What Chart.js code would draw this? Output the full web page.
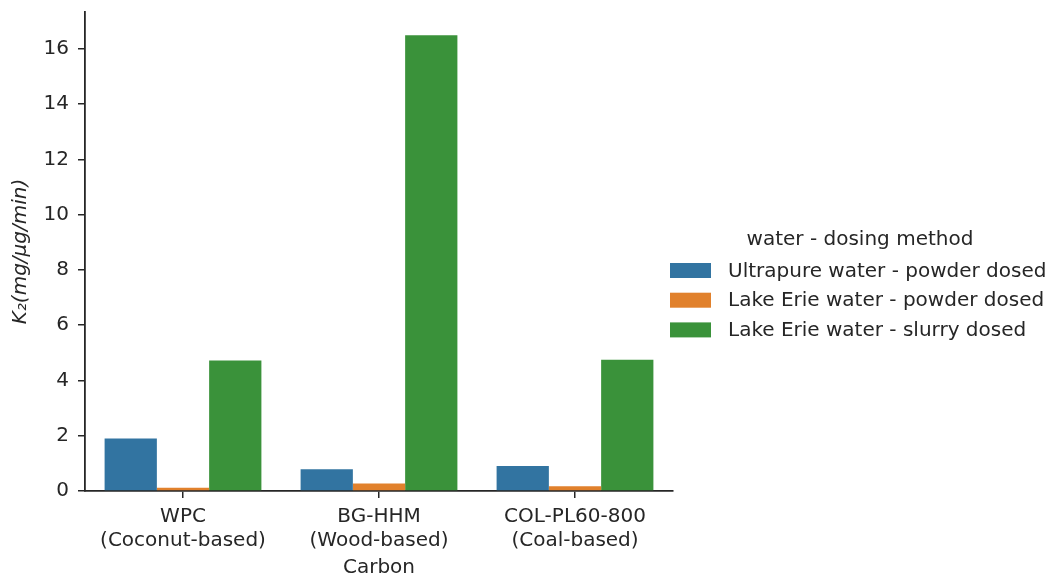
<!DOCTYPE html>
<html>
<head>
<meta charset="utf-8">
<script src="https://cdn.jsdelivr.net/npm/chart.js@4.4.1/dist/chart.umd.min.js"></script>
<style>
  html, body { margin: 0; padding: 0; background: #ffffff; }
  #wrap { width: 1051px; height: 573px; }
</style>
</head>
<body>
<div id="wrap"><canvas id="c" width="1051" height="573"></canvas></div>
<script>
const categories = [
  ['WPC', '(Coconut-based)'],
  ['BG-HHM', '(Wood-based)'],
  ['COL-PL60-800', '(Coal-based)']
];
const seriesNames = [
  'Ultrapure water - powder dosed',
  'Lake Erie water - powder dosed',
  'Lake Erie water - slurry dosed'
];
const ultrapurePowder = [1.90, 0.79, 0.90];
const eriePowder = [0.12, 0.27, 0.17];
const erieSlurry = [4.72, 16.49, 4.75];
const yTicks = [0, 2, 4, 6, 8, 10, 12, 14, 16];
const legendTitle = 'water - dosing method';
const xTitle = 'Carbon';
const yTitle = 'K\u2082(mg/\u03bcg/min)';

const colors = ['#3274a1', '#e1812c', '#3a923a'];
const textColor = '#262626';
const FONT = '"DejaVu Sans", sans-serif';
const FS = 20;

const legendPlugin = {
  id: 'sideLegend',
  afterDraw(chart) {
    const ctx = chart.ctx;
    ctx.save();
    ctx.font = FS + 'px ' + FONT;
    ctx.fillStyle = textColor;
    ctx.textBaseline = 'middle';
    ctx.textAlign = 'center';
    ctx.fillText(legendTitle, 860, 240);
    ctx.textAlign = 'left';
    const ys = [270.5, 300.2, 329.9];
    chart.data.datasets.forEach((ds, i) => {
      ctx.fillStyle = ds.backgroundColor;
      ctx.fillRect(670, ys[i] - 7.5, 41, 15);
      ctx.fillStyle = textColor;
      ctx.fillText(ds.label, 728, ys[i] + 1);
    });
    ctx.restore();
  }
};

new Chart(document.getElementById('c'), {
  type: 'bar',
  data: {
    labels: categories,
    datasets: [
      { label: seriesNames[0], data: ultrapurePowder, backgroundColor: colors[0] },
      { label: seriesNames[1], data: eriePowder, backgroundColor: colors[1] },
      { label: seriesNames[2], data: erieSlurry, backgroundColor: colors[2] }
    ]
  },
  options: {
    responsive: false,
    animation: false,
    devicePixelRatio: 1,
    layout: { padding: { top: 12, right: 378, bottom: 0, left: 0 } },
    datasets: { bar: { categoryPercentage: 0.8, barPercentage: 1.0, borderWidth: 0 } },
    plugins: {
      legend: { display: false },
      tooltip: { enabled: false }
    },
    scales: {
      x: {
        afterFit(s) { s.height = 82; s.paddingLeft = 0; s.paddingRight = 0; },
        grid: { display: true, drawOnChartArea: false, drawTicks: true, tickLength: 7, color: textColor, lineWidth: 1.5, offset: false },
        border: { display: true, color: textColor, width: 1.8 },
        ticks: { color: textColor, font: { family: FONT, size: FS }, padding: 7, maxRotation: 0 },
        title: { display: true, text: xTitle, color: textColor, font: { family: FONT, size: FS }, padding: { top: 0, bottom: -7 } }
      },
      y: {
        min: 0,
        max: 17.33,
        afterFit(s) { s.width = 85; s.paddingTop = 0; s.paddingBottom = 0; },
        afterBuildTicks(s) { s.ticks = yTicks.map(v => ({ value: v })); },
        grid: { display: true, drawOnChartArea: false, drawTicks: true, tickLength: 7, color: textColor, lineWidth: 1.5 },
        border: { display: true, color: textColor, width: 1.8 },
        ticks: { color: textColor, font: { family: FONT, size: FS }, padding: 9, stepSize: 2 },
        title: { display: true, text: yTitle, color: textColor, font: { family: FONT, size: FS, style: 'italic' }, padding: { top: 9, bottom: 0 } }
      }
    }
  },
  plugins: [legendPlugin]
});
</script>
</body>
</html>
